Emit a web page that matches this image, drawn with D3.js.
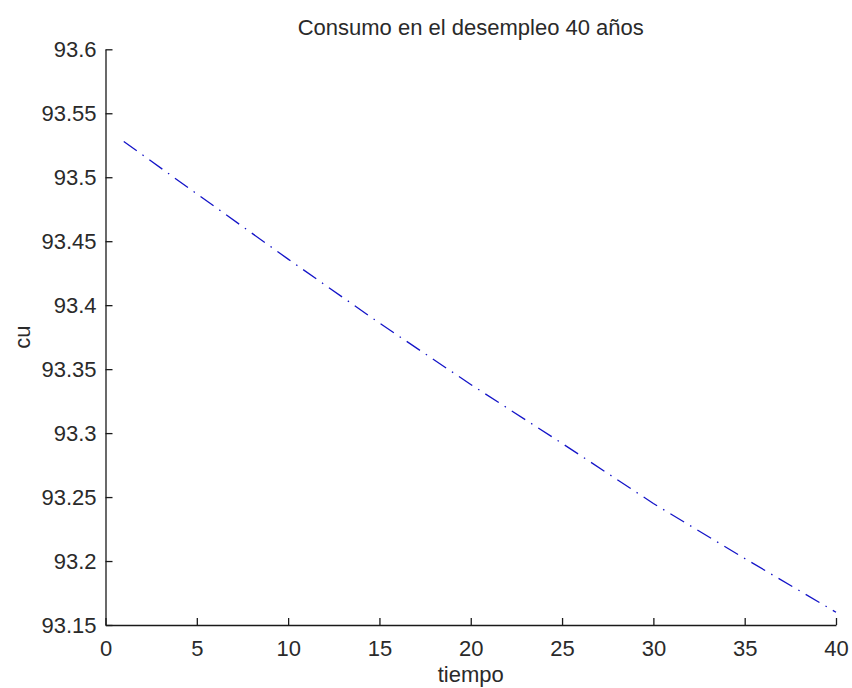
<!DOCTYPE html>
<html>
<head>
<meta charset="utf-8">
<script src="https://cdn.jsdelivr.net/npm/d3@7"></script>
<style>
  html, body { margin: 0; padding: 0; background: #fff; }
  svg { display: block; }
</style>
</head>
<body>
<div id="chart"></div>
<script>
// values (year -> cu)
const years = [1, 5, 10, 15, 20, 25, 30, 35, 40];
const cu = [93.528, 93.487, 93.436, 93.386, 93.338, 93.292, 93.245, 93.202, 93.160];
const xTicks = [0, 5, 10, 15, 20, 25, 30, 35, 40];
const yTicks = [93.15, 93.2, 93.25, 93.3, 93.35, 93.4, 93.45, 93.5, 93.55, 93.6];
const title = 'Consumo en el desempleo 40 años';
const xLabel = 'tiempo';
const yLabel = 'cu';

const width = 852, height = 688;
const margin = { top: 49.3, right: 16, bottom: 63, left: 105.5 };
const innerW = 836 - margin.left;
const innerH = 625 - margin.top;
const font = 'Arial, "Liberation Sans", Helvetica, sans-serif';

const svg = d3.select('#chart').append('svg')
  .attr('width', width).attr('height', height)
  .style('font-family', font);

const x = d3.scaleLinear().domain([0, 40]).range([0, innerW]);
const y = d3.scaleLinear().domain([93.15, 93.6]).range([innerH, 0]);

const g = svg.append('g').attr('transform', `translate(${margin.left},${margin.top})`);

// ticks point inward, MATLAB style
const xAxis = g.append('g').attr('transform', `translate(0,${innerH})`)
  .call(d3.axisBottom(x).tickValues(xTicks).tickSizeInner(-7).tickSizeOuter(0).tickPadding(15));
const yAxis = g.append('g')
  .call(d3.axisLeft(y).tickValues(yTicks).tickSizeInner(-7).tickSizeOuter(0).tickPadding(9)
    .tickFormat(d => String(+d.toFixed(2))));

[xAxis, yAxis].forEach(a => {
  a.selectAll('path, line').attr('stroke', '#1a1a1a').attr('stroke-width', 1.3);
  a.selectAll('text').attr('fill', '#2a2a2a').style('font-size', '22px').style('font-family', font);
});

const line = d3.line().x((d, i) => x(years[i])).y(d => y(d));
g.append('path')
  .datum(cu)
  .attr('d', line)
  .attr('fill', 'none')
  .attr('stroke', '#1414c8')
  .attr('stroke-width', 1.3)
  .attr('stroke-dasharray', '16,7,1.5,7');

svg.append('text')
  .attr('x', margin.left + innerW / 2).attr('y', 35)
  .attr('text-anchor', 'middle')
  .style('font-size', '22px').attr('fill', '#2a2a2a')
  .text(title);

svg.append('text')
  .attr('x', margin.left + innerW / 2).attr('y', 682)
  .attr('text-anchor', 'middle')
  .style('font-size', '22px').attr('fill', '#2a2a2a')
  .text(xLabel);

svg.append('text')
  .attr('transform', `translate(30,${margin.top + innerH / 2}) rotate(-90)`)
  .attr('text-anchor', 'middle')
  .style('font-size', '22px').attr('fill', '#2a2a2a')
  .text(yLabel);
</script>
</body>
</html>
